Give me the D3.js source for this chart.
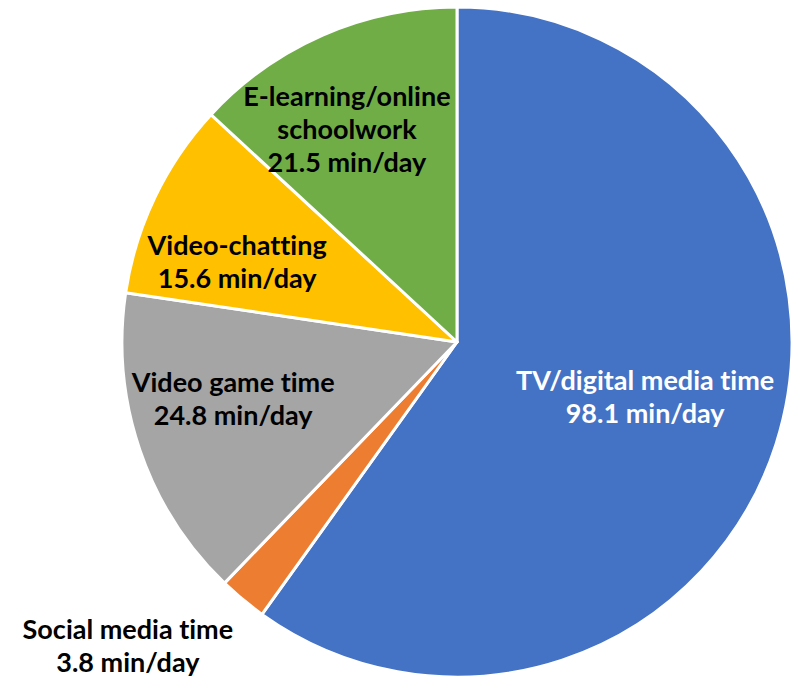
<!DOCTYPE html>
<html>
<head>
<meta charset="utf-8">
<script src="https://cdn.jsdelivr.net/npm/d3@7"></script>
<style>
  html, body { margin: 0; padding: 0; background: #fff; }
  svg { display: block; }
  .lbl { font-family: "Lato", "Open Sans", sans-serif; font-weight: 700; font-size: 27px; font-variant-ligatures: none; font-feature-settings: "liga" 0, "clig" 0; }
</style>
</head>
<body>
<svg id="chart" width="796" height="678"></svg>
<script>
// Screen time by activity (minutes per day)
const categories = ["TV/digital media time", "Social media time", "Video game time", "Video-chatting", "E-learning/online schoolwork"];
const values = [98.1, 3.8, 24.8, 15.6, 21.5];
const colors = ["#4472C4", "#ED7D31", "#A5A5A5", "#FFC000", "#70AD47"];
// label text lines for each slice
const labelLines = [
  ["TV/digital media time", "98.1 min/day"],
  ["Social media time", "3.8 min/day"],
  ["Video game time", "24.8 min/day"],
  ["Video-chatting", "15.6 min/day"],
  ["E-learning/online", "schoolwork", "21.5 min/day"]
];

const svg = d3.select("#chart");
const cx = 457, cy = 342, R = 335;

const pie = d3.pie().sort(null).value(d => d.value);
const data = categories.map((c, i) => ({ name: c, value: values[i], color: colors[i], lines: labelLines[i] }));
const arcs = pie(data);

const arc = d3.arc().innerRadius(0).outerRadius(R);
const g = svg.append("g").attr("transform", `translate(${cx},${cy})`);

g.selectAll("path.slice")
  .data(arcs)
  .enter().append("path")
  .attr("class", "slice")
  .attr("d", arc)
  .attr("fill", d => d.data.color)
  .attr("stroke", "#fff")
  .attr("stroke-width", 3)
  .attr("stroke-linejoin", "round");

// label placement: polar position (radius, angle shift) relative to slice midpoint
const labelPolar = [
  { r: 196, da: -1.5 },
  { r: 448, da: 7.5 },
  { r: 231, da: 4.5 },
  { r: 234, da: -5.6 },
  { r: 239, da: -3.8 }
];
const lineH = 33;

arcs.forEach((a, i) => {
  const mid = (a.startAngle + a.endAngle) / 2 + labelPolar[i].da * Math.PI / 180;
  const r = labelPolar[i].r;
  const x = r * Math.sin(mid);
  const y = -r * Math.cos(mid);
  const n = a.data.lines.length;
  const t = g.append("text")
    .attr("class", "lbl")
    .attr("text-anchor", "middle")
    .attr("fill", i === 0 ? "#fff" : "#000");
  a.data.lines.forEach((ln, k) => {
    t.append("tspan")
      .attr("x", x)
      .attr("y", y + (k - (n - 1) / 2) * lineH)
      .attr("dy", "0.35em")
      .text(ln);
  });
});
</script>
</body>
</html>
